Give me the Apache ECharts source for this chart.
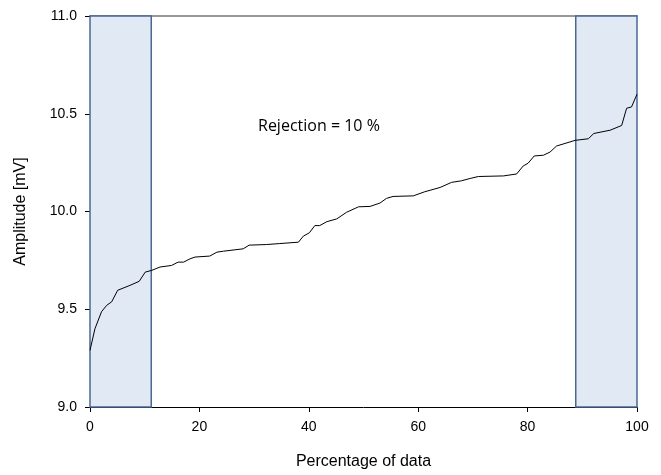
<!DOCTYPE html>
<html><head><meta charset="utf-8">
<script src="https://cdn.jsdelivr.net/npm/echarts@6/dist/echarts.min.js"></script>
<style>html,body{margin:0;padding:0;background:#fff}#c{width:661px;height:475px}</style>
</head><body><div id="c"></div>
<script>
const pct = [0, 0.9, 2.1, 3.05, 3.96, 5.06, 7.3, 9.0, 10.1, 11.3, 12.8, 14.9, 16.1, 17.1, 18.3, 19.2, 21.9, 23.2, 24.4, 28.0, 29.1, 32.3, 34.7, 38.1, 39.0, 40.1, 41.1, 42.0, 43.3, 45.1, 46.9, 49.1, 51.2, 53.0, 54.2, 55.4, 59.1, 61.2, 64.0, 66.1, 67.9, 69.5, 71.0, 75.6, 78.0, 79.2, 80.1, 81.2, 82.9, 84.1, 85.3, 88.7, 91.1, 92.1, 95.1, 97.2, 98.1, 99.0, 100];
const amplitude = [9.29, 9.40, 9.487, 9.52, 9.538, 9.597, 9.622, 9.643, 9.69, 9.699, 9.716, 9.724, 9.741, 9.741, 9.758, 9.767, 9.772, 9.792, 9.797, 9.809, 9.828, 9.831, 9.836, 9.843, 9.874, 9.891, 9.928, 9.928, 9.948, 9.962, 9.996, 10.024, 10.026, 10.043, 10.067, 10.077, 10.080, 10.101, 10.123, 10.149, 10.157, 10.169, 10.179, 10.182, 10.192, 10.233, 10.247, 10.284, 10.288, 10.304, 10.335, 10.364, 10.372, 10.399, 10.416, 10.440, 10.528, 10.535, 10.60];
const rejectLow = [0, 11.2];
const rejectHigh = [88.8, 100];
const annotation = 'Rejection = 10 %';
const xTitle = 'Percentage of data';
const yTitle = 'Amplitude [mV]';

const chart = echarts.init(document.getElementById('c'));
const font = 'Liberation Sans, Arial, sans-serif';
chart.setOption({
  animation: false,
  grid: { left: 90, right: 24, top: 16, bottom: 66 },
  xAxis: [{
    type: 'value', min: 0, max: 100, interval: 20,
    name: xTitle, nameLocation: 'middle', nameGap: 47,
    nameTextStyle: { fontFamily: font, fontSize: 16, color: '#000' },
    axisLine: { show: true, onZero: false, lineStyle: { color: '#000', width: 1 } },
    axisTick: { show: true, length: 5, lineStyle: { color: '#000' } },
    axisLabel: { fontFamily: font, fontSize: 14, color: '#000', margin: 13 },
    splitLine: { show: false }
  }, {
    type: 'value', min: 0, max: 100, position: 'top',
    axisLine: { show: true, lineStyle: { color: '#777', width: 1.5 } },
    axisTick: { show: false }, axisLabel: { show: false }, splitLine: { show: false }
  }],
  yAxis: {
    type: 'value', min: 9, max: 11, interval: 0.5,
    name: yTitle, nameLocation: 'middle', nameGap: 61,
    nameTextStyle: { fontFamily: font, fontSize: 16, color: '#000' },
    axisLine: { show: true, lineStyle: { color: '#000', width: 1 } },
    axisTick: { show: true, length: 5, lineStyle: { color: '#000' } },
    axisLabel: { fontFamily: font, fontSize: 14, color: '#000', margin: 13, formatter: v => v.toFixed(1) },
    splitLine: { show: false }
  },
  series: [{
    type: 'line',
    data: pct.map((p, i) => [p, amplitude[i]]),
    showSymbol: false, symbol: 'none',
    lineStyle: { color: '#000', width: 1 },
    z: 5,
    markArea: {
      silent: true,
      itemStyle: { color: '#e1e9f4', borderColor: '#4a6891', borderWidth: 1.5 },
      data: [
        [{ xAxis: rejectLow[0], yAxis: 9 }, { xAxis: rejectLow[1], yAxis: 11 }],
        [{ xAxis: rejectHigh[0], yAxis: 9 }, { xAxis: rejectHigh[1], yAxis: 11 }]
      ]
    }
  }],
  graphic: [{
    type: 'text', left: 258, top: 118,
    style: { text: annotation, font: '16px "Open Sans", sans-serif', fill: '#000' }
  }]
});
</script></body></html>
